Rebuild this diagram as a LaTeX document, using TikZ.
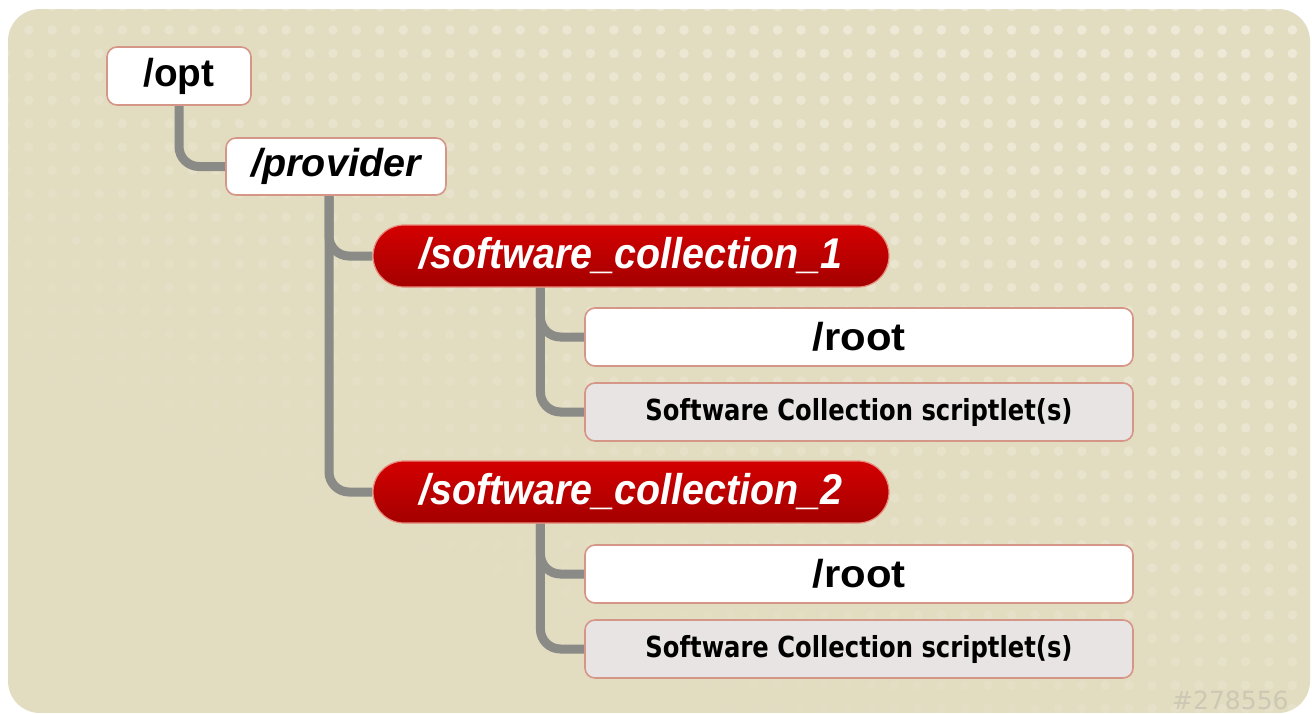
\documentclass[tikz,border=0pt]{standalone}
\usepackage{fontspec}
\usepackage{graphicx}
\setmainfont{Liberation Sans}
\newfontfamily\dvsans{DejaVu Sans}
\definecolor{bgc}{RGB}{226,220,193}
\definecolor{dotc}{RGB}{238,233,214}
\definecolor{boxborder}{RGB}{214,150,135}
\definecolor{pillborder}{RGB}{232,140,125}
\definecolor{redtop}{RGB}{212,0,0}
\definecolor{redbot}{RGB}{163,0,0}
\definecolor{conngray}{RGB}{138,138,134}
\definecolor{scrfill}{RGB}{232,228,228}
\definecolor{idgray}{RGB}{205,200,180}
\pgfdeclarelayer{bglayer}
\pgfdeclarelayer{connlayer}
\pgfsetlayers{bglayer,connlayer,main}
\tikzset{
  box/.style={draw=boxborder, line width=0.8pt, rounded corners=5pt, fill=white,
    inner sep=0pt, text=black, minimum width=274pt, minimum height=29pt},
  smallbox/.style={box, minimum width=#1},
  scrbox/.style={box, fill=scrfill},
  pill/.style={draw=pillborder, line width=0.6pt, rounded corners=15.5pt,
    top color=redtop, bottom color=redbot, inner sep=0pt, text=white,
    minimum width=258pt, minimum height=31pt},
  conn/.style={draw=conngray, line width=4.5pt, rounded corners=10pt},
}
\newcommand{\dirlabel}[2]{\resizebox{#1}{\height}{\fontsize{19.5}{21}\selectfont\bfseries #2}}
\newcommand{\dirlabelit}[2]{\resizebox{#1}{\height}{\fontsize{19.5}{21}\selectfont\bfseries\itshape #2}}
\newcommand{\sclabel}[1]{\resizebox{211.5pt}{\height}{\fontsize{21.5}{23}\selectfont\bfseries\itshape #1}}
\newcommand{\scrlabel}{\resizebox{213.5pt}{\height}{\dvsans\fontsize{14.5}{16}\selectfont\bfseries Software Collection scriptlet(s)}}
\begin{document}
\begin{tikzpicture}[x=0.5pt,y=-0.5pt]
\useasboundingbox (0,0) rectangle (1312,713);
\begin{pgfonlayer}{bglayer}
  \fill[white] (0,0) rectangle (1312,713);
  \begin{scope}
    \clip[rounded corners=16pt] (8,9) rectangle (1310,713);
    \fill[bgc] (0,0) rectangle (1312,713);
    \foreach \i in {0,...,55}{
      \foreach \j in {0,...,30}{
        \pgfmathsetmacro\xx{5.4+23.4*\i}
        \pgfmathsetmacro\yy{6.6+23.4*\j}
        \pgfmathsetmacro\op{max(0,min(1,(\xx/1312)*0.8+(1-\yy/713)*0.9-0.4))}
        \fill[dotc,opacity=\op] (\xx,\yy) circle (2.4pt);
      }
    }
  \end{scope}
\end{pgfonlayer}

\node[smallbox=72pt] (opt) at (179,76) {\dirlabel{35.5pt}{/opt}};
\node[smallbox=110pt, minimum height=28.5pt] (provider) at (336,166.5) {\dirlabelit{84.5pt}{/provider}};
\node[pill] (sc1) at (631,256) {\sclabel{/software\_collection\_1}};
\node[box] (root1) at (859,337) {\dirlabel{46.5pt}{/root}};
\node[scrbox] (scr1) at (859,412) {\scrlabel};
\node[pill] (sc2) at (631,492) {\sclabel{/software\_collection\_2}};
\node[box] (root2) at (859,574) {\dirlabel{46.5pt}{/root}};
\node[scrbox] (scr2) at (859,649) {\scrlabel};

\node[anchor=east, text=idgray, inner sep=0pt, font=\dvsans\fontsize{12.5}{14}\selectfont] (tag) at (1289,700) {\#278556};

\begin{pgfonlayer}{connlayer}
  \draw[conn] (opt.south) |- (provider.west);
  \draw[conn] ([xshift=-3.5pt]provider.south) |- (sc1.west);
  \draw[conn] ([xshift=-3.5pt]provider.south) |- (sc2.west);
  \draw[conn] ([xshift=84pt]sc1.south west) |- (root1.west);
  \draw[conn] ([xshift=84pt]sc1.south west) |- (scr1.west);
  \draw[conn] ([xshift=84pt]sc2.south west) |- (root2.west);
  \draw[conn] ([xshift=84pt]sc2.south west) |- (scr2.west);
\end{pgfonlayer}
\end{tikzpicture}
\end{document}
